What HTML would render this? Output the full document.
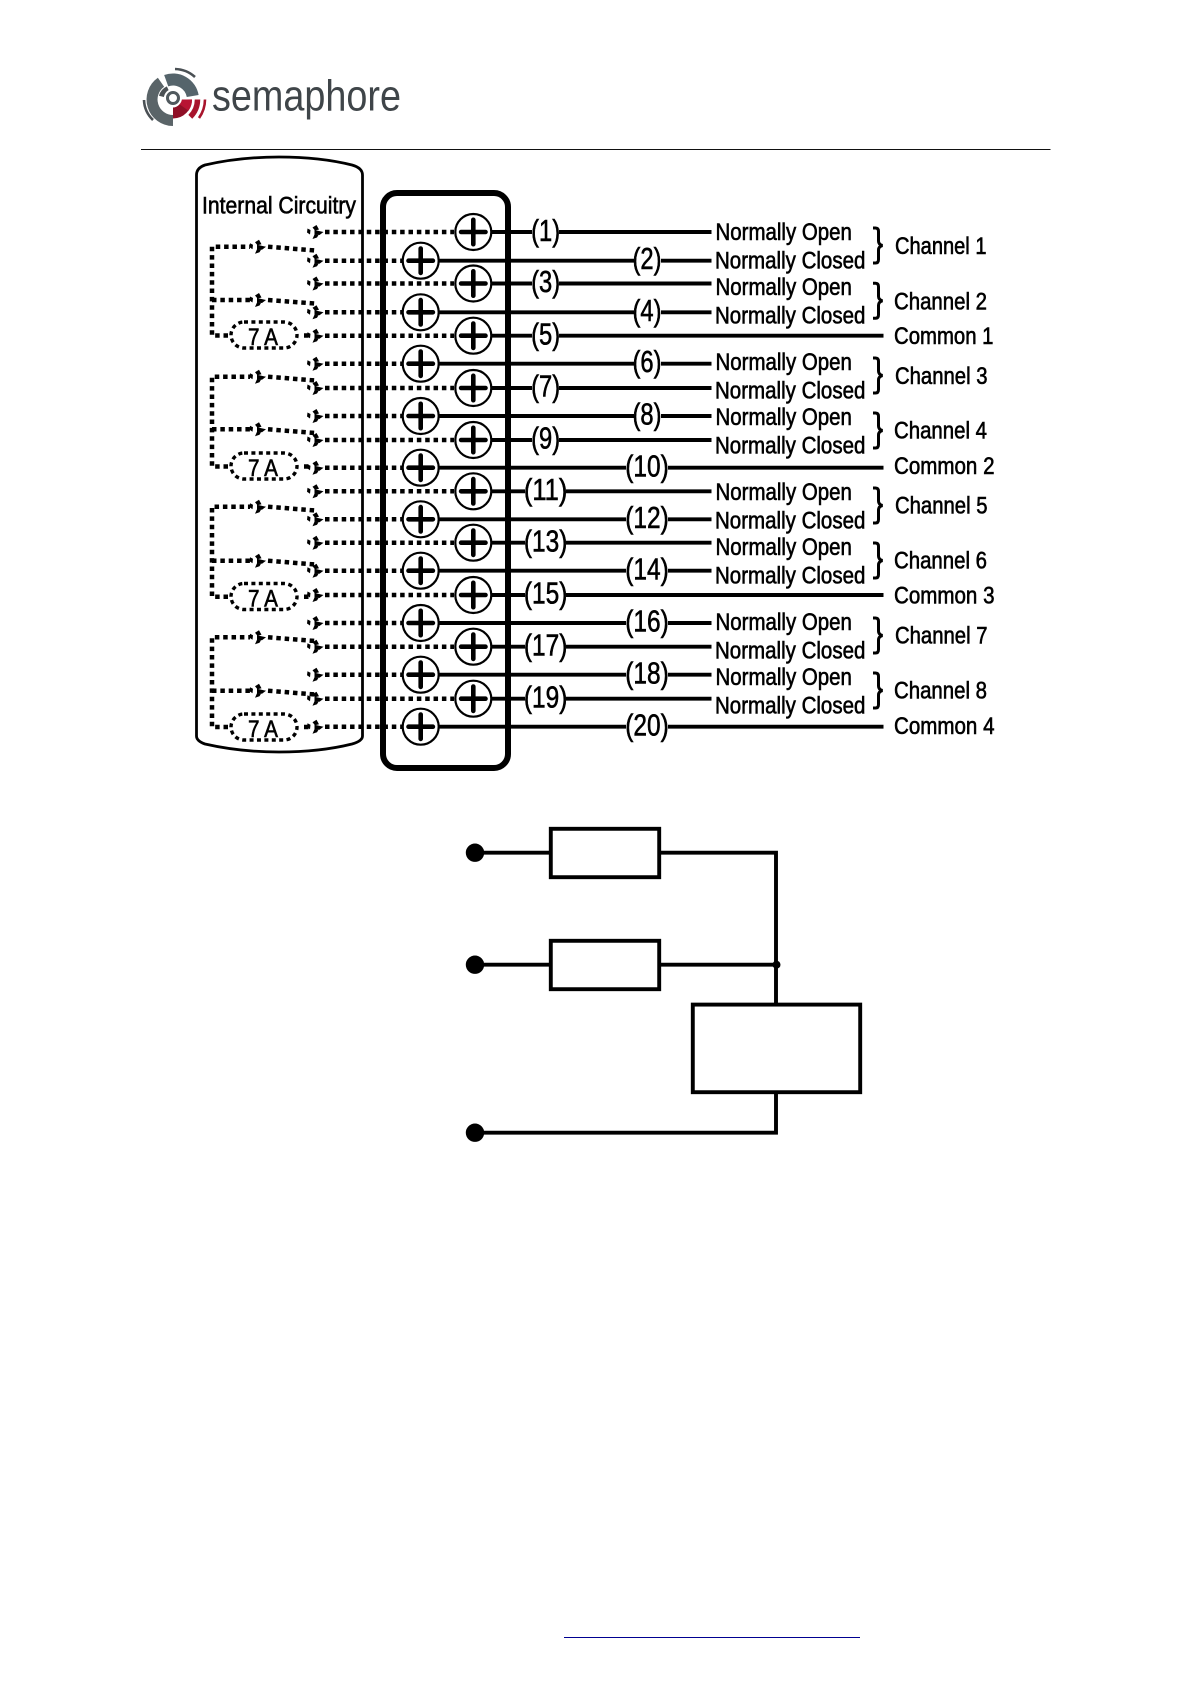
<!DOCTYPE html>
<html><head><meta charset="utf-8"><style>
html,body{margin:0;padding:0;background:#fff}
svg{display:block;position:absolute;left:0;top:0}
text{font-family:"Liberation Sans",sans-serif;fill:#000;stroke:#000;stroke-width:.6}
.no,.nc,.ch,.cm{font-size:24px}
.p{font-size:31px;text-anchor:middle;stroke-width:.6}
.l{stroke:#000;stroke-width:3.9;fill:none}
.d{stroke:#000;stroke-width:4.5;stroke-dasharray:4.5 3.85;fill:none}
</style></head><body>
<svg width="1191" height="1684" viewBox="0 0 1191 1684" xmlns="http://www.w3.org/2000/svg">
<defs>
<g id="a"><path d="M-15 -3.5L-12 -2L-12.5 2.5L-15.5 0.5Z M-10 -4.5L-6 -7L-3.5 -2.5L-7.5 -1.5Z M-8 -2L1 0L-3 3L-8 2.5Z M-10 7L-8 2.5L-4 3L-5.5 5.5Z" fill="#000"/></g>
<g id="c"><circle r="18" fill="#fff" stroke="#000" stroke-width="2.2"/><path d="M-12.2 0H12.2M0 -12.2V12.2" stroke="#000" stroke-width="4.6" stroke-linecap="round"/></g>
<path id="br" d="M0 0H2.5Q5.5 0 5.5 3.5V13Q5.5 16.5 9.5 17.5Q5.5 18.5 5.5 22V31.5Q5.5 35 2.5 35H0" fill="none" stroke="#000" stroke-width="3"/>
</defs>

<!-- logo -->
<g fill="none">
<path d="M173 120.5A21 21 0 0 1 161 82.3" stroke="#5a6468" stroke-width="11"/>
<path d="M166.2 80.7A20 20 0 0 1 192.7 96" stroke="#55646b" stroke-width="12"/>
<path d="M175 69A31 31 0 0 1 195 77" stroke="#4a5054" stroke-width="2.6"/>
<path d="M144 100A29 29 0 0 0 153 120" stroke="#4a5054" stroke-width="2.6"/>
<path d="M161.4 96.4A12 12 0 0 1 167.9 88.6" stroke="#4a5054" stroke-width="5"/>
<path d="M186.5 99.5A13.5 13.5 0 0 1 173 113" stroke="#8f0f26" stroke-width="11"/>
<path d="M186.5 99.5A13.5 13.5 0 0 1 184 107.5" stroke="#b81433" stroke-width="11"/>
<path d="M197.5 99.5A24.5 24.5 0 0 1 190.3 116.8" stroke="#a8142c" stroke-width="5.5"/>
<path d="M205 99.5A32 32 0 0 1 199 118" stroke="#a8142c" stroke-width="2.6"/>
<circle cx="173" cy="98" r="9" fill="#fff" stroke="none"/>
<circle cx="173" cy="98" r="5.5" stroke="#50595e" stroke-width="3"/>
</g>
<text x="212" y="110.5" font-size="44" textLength="189" lengthAdjust="spacingAndGlyphs" style="fill:#3f4549;stroke:none">semaphore</text>
<rect x="141" y="149" width="909.5" height="1" fill="#111"/>

<!-- cylinder -->
<path d="M196.5 175Q196.5 168 205 165Q240 157 279 157Q320 157 352 165Q362.5 168 362.5 175V736Q362.5 741 352 744Q320 752 279 752Q240 752 205 744Q196.5 741 196.5 736Z" fill="none" stroke="#000" stroke-width="2.8"/>
<text x="202" y="213.5" class="no" textLength="154" lengthAdjust="spacingAndGlyphs">Internal Circuitry</text>

<!-- connector box -->
<rect x="383" y="193" width="125" height="575" rx="14" fill="none" stroke="#000" stroke-width="6"/>

<!-- dotted terminal rows -->
<path class="d" d="M325 232H454M325 260.7H402M325 283.5H454M325 312.3H402M325 335.7H454M325 363.7H402M325 388H454M325 416H402M325 440H454M325 467.7H402M325 491.3H454M325 519.3H402M325 542.7H454M325 570.7H402M325 595H454M325 623H402M325 646.7H454M325 674.7H402M325 698.7H454M325 726.7H402"/>

<!-- row arrows -->
<use href="#a" x="322.5" y="232"/><use href="#a" x="322.5" y="260.7"/><use href="#a" x="322.5" y="283.5"/><use href="#a" x="322.5" y="312.3"/><use href="#a" x="322.5" y="335.7"/><use href="#a" x="322.5" y="363.7"/><use href="#a" x="322.5" y="388"/><use href="#a" x="322.5" y="416"/><use href="#a" x="322.5" y="440"/><use href="#a" x="322.5" y="467.7"/><use href="#a" x="322.5" y="491.3"/><use href="#a" x="322.5" y="519.3"/><use href="#a" x="322.5" y="542.7"/><use href="#a" x="322.5" y="570.7"/><use href="#a" x="322.5" y="595"/><use href="#a" x="322.5" y="623"/><use href="#a" x="322.5" y="646.7"/><use href="#a" x="322.5" y="674.7"/><use href="#a" x="322.5" y="698.7"/><use href="#a" x="322.5" y="726.7"/>

<!-- internal bridges -->
<path class="d" d="M228 335.5H212V246.7H250M268 246.7L315 250.5M212 300H250M268 300L315 303.5M304 335.5H309"/>
<path class="d" d="M228 466.5H212V376.7H250M268 376.7L315 380.5M212 429.3H250M268 429.3L315 433M304 466.5H309"/>
<path class="d" d="M228 596.7H212V506.7H250M268 506.7L315 510.5M212 560.7H250M268 560.7L315 564.5M304 596.7H309"/>
<path class="d" d="M228 727H212V637.3H250M268 637.3L315 641M212 690.7H250M268 690.7L315 694.5M304 727H309"/>
<use href="#a" x="265" y="246.7"/><use href="#a" x="265" y="300"/><use href="#a" x="265" y="376.7"/><use href="#a" x="265" y="429.3"/><use href="#a" x="265" y="506.7"/><use href="#a" x="265" y="560.7"/><use href="#a" x="265" y="637.3"/><use href="#a" x="265" y="690.7"/>

<!-- fuses -->
<g fill="none" stroke="#000" stroke-width="3.4" stroke-dasharray="4 3.4">
<rect x="231" y="322" width="66" height="26" rx="13"/>
<rect x="231" y="453" width="66" height="26" rx="13"/>
<rect x="231" y="583.5" width="66" height="26" rx="13"/>
<rect x="231" y="714" width="66" height="26" rx="13"/>
</g>
<g style="font-size:24px">
<text x="248" y="345" textLength="30" lengthAdjust="spacingAndGlyphs" style="stroke-width:.6">7 A</text>
<text x="248" y="476" textLength="30" lengthAdjust="spacingAndGlyphs" style="stroke-width:.6">7 A</text>
<text x="248" y="606.5" textLength="30" lengthAdjust="spacingAndGlyphs" style="stroke-width:.6">7 A</text>
<text x="248" y="737" textLength="30" lengthAdjust="spacingAndGlyphs" style="stroke-width:.6">7 A</text>
</g>

<!-- solid lines -->
<path class="l" d="M492 232H532M559 232H711.5
M439 260.7H634M661 260.7H711.5
M492 283.5H532M559 283.5H711.5
M439 312.3H634M661 312.3H711.5
M492 335.7H532M559 335.7H883.5
M439 363.7H634M661 363.7H711.5
M492 388H532M559 388H711.5
M439 416H634M661 416H711.5
M492 440H532M559 440H711.5
M439 467.7H626M668 467.7H883.5
M492 491.3H525M566 491.3H711.5
M439 519.3H626M668 519.3H711.5
M492 542.7H525M566 542.7H711.5
M439 570.7H626M668 570.7H711.5
M492 595H525M566 595H883.5
M439 623H626M668 623H711.5
M492 646.7H525M566 646.7H711.5
M439 674.7H626M668 674.7H711.5
M492 698.7H525M566 698.7H711.5
M439 726.7H626M668 726.7H883.5"/>

<!-- terminals -->
<use href="#c" x="473.3" y="232"/><use href="#c" x="420.7" y="260.7"/><use href="#c" x="473.3" y="283.5"/><use href="#c" x="420.7" y="312.3"/><use href="#c" x="473.3" y="335.7"/><use href="#c" x="420.7" y="363.7"/><use href="#c" x="473.3" y="388"/><use href="#c" x="420.7" y="416"/><use href="#c" x="473.3" y="440"/><use href="#c" x="420.7" y="467.7"/><use href="#c" x="473.3" y="491.3"/><use href="#c" x="420.7" y="519.3"/><use href="#c" x="473.3" y="542.7"/><use href="#c" x="420.7" y="570.7"/><use href="#c" x="473.3" y="595"/><use href="#c" x="420.7" y="623"/><use href="#c" x="473.3" y="646.7"/><use href="#c" x="420.7" y="674.7"/><use href="#c" x="473.3" y="698.7"/><use href="#c" x="420.7" y="726.7"/>

<!-- pin labels -->
<text class="p" x="545.6" y="241" textLength="29" lengthAdjust="spacingAndGlyphs">(1)</text>
<text class="p" x="647" y="269" textLength="29" lengthAdjust="spacingAndGlyphs">(2)</text>
<text class="p" x="545.6" y="292" textLength="29" lengthAdjust="spacingAndGlyphs">(3)</text>
<text class="p" x="647" y="321" textLength="29" lengthAdjust="spacingAndGlyphs">(4)</text>
<text class="p" x="545.6" y="344.5" textLength="29" lengthAdjust="spacingAndGlyphs">(5)</text>
<text class="p" x="647" y="372" textLength="29" lengthAdjust="spacingAndGlyphs">(6)</text>
<text class="p" x="545.6" y="396.5" textLength="29" lengthAdjust="spacingAndGlyphs">(7)</text>
<text class="p" x="647" y="424.5" textLength="29" lengthAdjust="spacingAndGlyphs">(8)</text>
<text class="p" x="545.6" y="448.5" textLength="29" lengthAdjust="spacingAndGlyphs">(9)</text>
<text class="p" x="647" y="476.5" textLength="43.5" lengthAdjust="spacingAndGlyphs">(10)</text>
<text class="p" x="545.6" y="500" textLength="43.5" lengthAdjust="spacingAndGlyphs">(11)</text>
<text class="p" x="647" y="528" textLength="43.5" lengthAdjust="spacingAndGlyphs">(12)</text>
<text class="p" x="545.6" y="551.5" textLength="43.5" lengthAdjust="spacingAndGlyphs">(13)</text>
<text class="p" x="647" y="579.5" textLength="43.5" lengthAdjust="spacingAndGlyphs">(14)</text>
<text class="p" x="545.6" y="603.5" textLength="43.5" lengthAdjust="spacingAndGlyphs">(15)</text>
<text class="p" x="647" y="631.5" textLength="43.5" lengthAdjust="spacingAndGlyphs">(16)</text>
<text class="p" x="545.6" y="655.5" textLength="43.5" lengthAdjust="spacingAndGlyphs">(17)</text>
<text class="p" x="647" y="683.5" textLength="43.5" lengthAdjust="spacingAndGlyphs">(18)</text>
<text class="p" x="545.6" y="707.5" textLength="43.5" lengthAdjust="spacingAndGlyphs">(19)</text>
<text class="p" x="647" y="735.5" textLength="43.5" lengthAdjust="spacingAndGlyphs">(20)</text>

<!-- NO / NC -->
<text class="no" x="715.5" y="240" textLength="136.4" lengthAdjust="spacingAndGlyphs">Normally Open</text>
<text class="nc" x="715" y="268.3" textLength="150.4" lengthAdjust="spacingAndGlyphs">Normally Closed</text>
<text class="no" x="715.5" y="295" textLength="136.4" lengthAdjust="spacingAndGlyphs">Normally Open</text>
<text class="nc" x="715" y="323.3" textLength="150.4" lengthAdjust="spacingAndGlyphs">Normally Closed</text>
<text class="no" x="715.5" y="370" textLength="136.4" lengthAdjust="spacingAndGlyphs">Normally Open</text>
<text class="nc" x="715" y="398.3" textLength="150.4" lengthAdjust="spacingAndGlyphs">Normally Closed</text>
<text class="no" x="715.5" y="425" textLength="136.4" lengthAdjust="spacingAndGlyphs">Normally Open</text>
<text class="nc" x="715" y="453.3" textLength="150.4" lengthAdjust="spacingAndGlyphs">Normally Closed</text>
<text class="no" x="715.5" y="500" textLength="136.4" lengthAdjust="spacingAndGlyphs">Normally Open</text>
<text class="nc" x="715" y="528.3" textLength="150.4" lengthAdjust="spacingAndGlyphs">Normally Closed</text>
<text class="no" x="715.5" y="555" textLength="136.4" lengthAdjust="spacingAndGlyphs">Normally Open</text>
<text class="nc" x="715" y="583.3" textLength="150.4" lengthAdjust="spacingAndGlyphs">Normally Closed</text>
<text class="no" x="715.5" y="630" textLength="136.4" lengthAdjust="spacingAndGlyphs">Normally Open</text>
<text class="nc" x="715" y="658.3" textLength="150.4" lengthAdjust="spacingAndGlyphs">Normally Closed</text>
<text class="no" x="715.5" y="685" textLength="136.4" lengthAdjust="spacingAndGlyphs">Normally Open</text>
<text class="nc" x="715" y="713.3" textLength="150.4" lengthAdjust="spacingAndGlyphs">Normally Closed</text>

<!-- braces -->
<use href="#br" x="873" y="228"/><use href="#br" x="873" y="283.3"/><use href="#br" x="873" y="358"/><use href="#br" x="873" y="413"/><use href="#br" x="873" y="488"/><use href="#br" x="873" y="543"/><use href="#br" x="873" y="618"/><use href="#br" x="873" y="673"/>

<!-- channels -->
<text class="ch" x="895" y="254" textLength="91.5" lengthAdjust="spacingAndGlyphs">Channel 1</text>
<text class="ch" x="894" y="309.3" textLength="93" lengthAdjust="spacingAndGlyphs">Channel 2</text>
<text class="ch" x="895" y="384" textLength="92.5" lengthAdjust="spacingAndGlyphs">Channel 3</text>
<text class="ch" x="894" y="438.7" textLength="93" lengthAdjust="spacingAndGlyphs">Channel 4</text>
<text class="ch" x="895" y="513.3" textLength="92.5" lengthAdjust="spacingAndGlyphs">Channel 5</text>
<text class="ch" x="894" y="568.7" textLength="93" lengthAdjust="spacingAndGlyphs">Channel 6</text>
<text class="ch" x="895" y="643.3" textLength="92.5" lengthAdjust="spacingAndGlyphs">Channel 7</text>
<text class="ch" x="894" y="698.7" textLength="93" lengthAdjust="spacingAndGlyphs">Channel 8</text>
<text class="cm" x="894" y="344" textLength="99.5" lengthAdjust="spacingAndGlyphs">Common 1</text>
<text class="cm" x="894" y="474" textLength="100.5" lengthAdjust="spacingAndGlyphs">Common 2</text>
<text class="cm" x="894" y="603.3" textLength="100.5" lengthAdjust="spacingAndGlyphs">Common 3</text>
<text class="cm" x="894" y="734" textLength="100.5" lengthAdjust="spacingAndGlyphs">Common 4</text>

<!-- second diagram -->
<g fill="none" stroke="#000" stroke-width="3.9">
<rect x="550.8" y="828.8" width="108.4" height="48.4"/>
<rect x="550.8" y="940.8" width="108.4" height="48.4"/>
<rect x="692.8" y="1004.6" width="167.4" height="87.6"/>
<path d="M475 852.7H550M660 852.7H776V1003M475 964.7H550M660 964.7H776M776 1093V1132.7H475"/>
</g>
<circle cx="475" cy="852.7" r="9.2"/><circle cx="475" cy="964.7" r="9.2"/><circle cx="475" cy="1132.7" r="9.2"/>
<circle cx="776.5" cy="964.7" r="4"/>

<!-- link underline -->
<rect x="564" y="1637" width="296" height="1" fill="#000090"/>
</svg>
</body></html>
